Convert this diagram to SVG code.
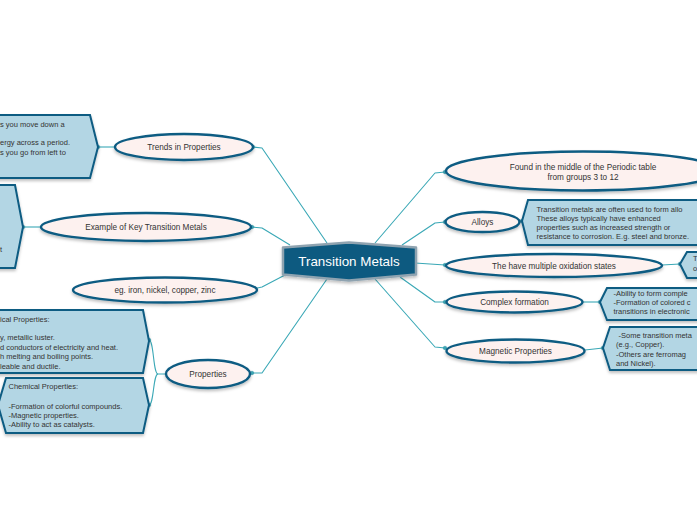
<svg xmlns="http://www.w3.org/2000/svg" width="697" height="520" viewBox="0 0 697 520">
<defs>
<filter id="sh" x="-10%" y="-20%" width="120%" height="150%">
<feDropShadow dx="0" dy="2" stdDeviation="1.5" flood-color="#000" flood-opacity="0.25"/>
</filter>
</defs>
<style>
.ell{fill:#fdf1ef;stroke:#0d5b82;stroke-width:2.4;filter:url(#sh)}
.box{fill:#b3d6e4;stroke:#0d5b82;stroke-width:2;stroke-linejoin:miter;filter:url(#sh)}
.t{font-family:"Liberation Sans",Arial,sans-serif;font-size:8.2px;fill:#333;text-anchor:middle}
.b{font-family:"Liberation Sans",Arial,sans-serif;font-size:7.5px;fill:#333}
.c{fill:none;stroke:#3aa8b6;stroke-width:1.1;stroke-linejoin:round}
.d{fill:#3aa8b6;stroke:#2a8fa0;stroke-width:0.5}
</style>
<rect width="697" height="520" fill="#fff"/>
<g id="connectors">
<path class="c" d="M327,243 L262,148 L253,147"/>
<path class="c" d="M290,245 L262,228 L252,227"/>
<path class="c" d="M285,275 L262,287 L253,289"/>
<path class="c" d="M327,279 L262,373 L252,373"/>
<path class="c" d="M375,243 L435,173 L445,172"/>
<path class="c" d="M402,245 L435,223 L445,222"/>
<path class="c" d="M415,263 L445,265"/>
<path class="c" d="M400,277 L435,302 L445,302"/>
<path class="c" d="M375,279 L435,347 L445,348"/>
<path class="c" d="M115,147 L98,147"/>
<path class="c" d="M41,227 L23,227"/>
<path class="c" d="M166,374 L158,374 C153,374 154,340 149,340"/>
<path class="c" d="M158,374 C153,374 154,405 149,405"/>
<path class="c" d="M520,222 L522,221"/>
<path class="c" d="M662,265 L680,264"/>
<path class="c" d="M583,302 L600,302"/>
<path class="c" d="M585,350 L603,348"/>
<circle class="d" cx="253" cy="147" r="1.8"/>
<circle class="d" cx="252" cy="227" r="1.8"/>
<circle class="d" cx="253" cy="289" r="1.8"/>
<circle class="d" cx="252" cy="373" r="1.8"/>
<circle class="d" cx="445" cy="172" r="1.8"/>
<circle class="d" cx="445" cy="222" r="1.8"/>
<circle class="d" cx="445" cy="265" r="1.8"/>
<circle class="d" cx="445" cy="302" r="1.8"/>
<circle class="d" cx="445" cy="348" r="1.8"/>
<circle class="d" cx="98" cy="147" r="1.8"/>
<circle class="d" cx="23" cy="227" r="1.8"/>
<circle class="d" cx="149" cy="340" r="1.8"/>
<circle class="d" cx="149" cy="405" r="1.8"/>
<circle class="d" cx="522" cy="221" r="1.8"/>
<circle class="d" cx="680" cy="264" r="1.8"/>
<circle class="d" cx="600" cy="302" r="1.8"/>
<circle class="d" cx="603" cy="348" r="1.8"/>
</g>
<g id="center">
<polygon points="283,247.5 349,242.5 416,247.5 416,274.5 349,280.5 283,274.5" fill="#0b5a80" stroke="#8fa3b0" stroke-width="2.5" stroke-linejoin="round" filter="url(#sh)"/>
<text x="349" y="266" font-family="Liberation Sans,Arial,sans-serif" font-size="13.4" fill="#fff" text-anchor="middle">Transition Metals</text>
</g>
<g id="trends">
<ellipse class="ell" cx="184" cy="147" rx="69" ry="13"/>
<text class="t" x="184" y="150">Trends in Properties</text>
</g>
<g id="trends-box">
<polygon class="box" points="-5,115 90,115 98,147 90,178 -5,178"/>
<text class="b" x="0" y="126.5">s you move down a</text>
<text class="b" x="0" y="145">ergy across a period.</text>
<text class="b" x="0" y="155">s you go from left to</text>
</g>
<g id="example">
<ellipse class="ell" cx="146" cy="227" rx="105" ry="14"/>
<text class="t" x="146" y="230">Example of Key Transition Metals</text>
</g>
<g id="example-box">
<polygon class="box" points="-5,185 15,185 23,227 15,268 -5,268"/>
<text class="b" x="0" y="252">t</text>
</g>
<g id="iron">
<ellipse class="ell" cx="165" cy="290" rx="92" ry="12.5"/>
<text class="t" x="165" y="293">eg. iron, nickel, copper, zinc</text>
</g>
<g id="properties">
<ellipse class="ell" cx="208" cy="374" rx="42" ry="14"/>
<text class="t" x="208" y="377">Properties</text>
</g>
<g id="physical-box">
<polygon class="box" points="-5,310 143,310 149,341 143,373 -5,373"/>
<text class="b" x="0" y="321.5">ical Properties:</text>
<text class="b" x="0" y="340">y, metallic luster.</text>
<text class="b" x="0" y="350">d conductors of electricity and heat.</text>
<text class="b" x="0" y="359">h melting and boiling points.</text>
<text class="b" x="0" y="368.5">leable and ductile.</text>
</g>
<g id="chemical-box">
<polygon class="box" points="6,378 143,378 149,405 143,433 6,433 -2,405"/>
<text class="b" x="8.5" y="389">Chemical Properties:</text>
<text class="b" x="8.5" y="408.5">-Formation of colorful compounds.</text>
<text class="b" x="8.5" y="417.5">-Magnetic properties.</text>
<text class="b" x="8.5" y="426.5">-Ability to act as catalysts.</text>
</g>
<g id="found">
<ellipse class="ell" cx="583" cy="171" rx="137" ry="19.5"/>
<text class="t" x="583" y="170">Found in the middle of the Periodic table</text>
<text class="t" x="583" y="180">from groups 3 to 12</text>
</g>
<g id="alloys">
<ellipse class="ell" cx="482.5" cy="222" rx="37" ry="10"/>
<text class="t" x="482.5" y="225">Alloys</text>
</g>
<g id="alloys-box">
<polygon class="box" points="528,200 705,200 705,245 528,245 522,221"/>
<text class="b" x="536.5" y="211.5">Transition metals are often used to form allo</text>
<text class="b" x="536.5" y="221">These alloys typically have enhanced</text>
<text class="b" x="536.5" y="230">properties such as increased strength or</text>
<text class="b" x="536.5" y="239">resistance to corrosion. E.g. steel and bronze.</text>
</g>
<g id="oxidation">
<ellipse class="ell" cx="554" cy="265.5" rx="108" ry="11.5"/>
<text class="t" x="554" y="268.5">The have multiple oxidation states</text>
</g>
<g id="oxidation-box">
<polygon class="box" points="687,252 705,252 705,278 687,278 680,264"/>
<text class="b" x="693" y="261">T</text>
<text class="b" x="693" y="271">o</text>
</g>
<g id="complex">
<ellipse class="ell" cx="514.5" cy="302" rx="68" ry="10.5"/>
<text class="t" x="514.5" y="305">Complex formation</text>
</g>
<g id="complex-box">
<polygon class="box" points="607,288 705,288 705,320 607,320 600,302"/>
<text class="b" x="613.5" y="295.5">-Ability to form comple</text>
<text class="b" x="613.5" y="304.5">-Formation of colored c</text>
<text class="b" x="613.5" y="313.5">transitions in electronic</text>
</g>
<g id="magnetic">
<ellipse class="ell" cx="515.5" cy="351" rx="69" ry="11.5"/>
<text class="t" x="515.5" y="354">Magnetic Properties</text>
</g>
<g id="magnetic-box">
<polygon class="box" points="610,327 705,327 705,370 610,370 603,348"/>
<text class="b" x="618.5" y="337.5">-Some transition meta</text>
<text class="b" x="616" y="347">(e.g., Copper).</text>
<text class="b" x="616" y="356.5">-Others are ferromag</text>
<text class="b" x="616" y="365.5">and Nickel).</text>
</g>
</svg>
